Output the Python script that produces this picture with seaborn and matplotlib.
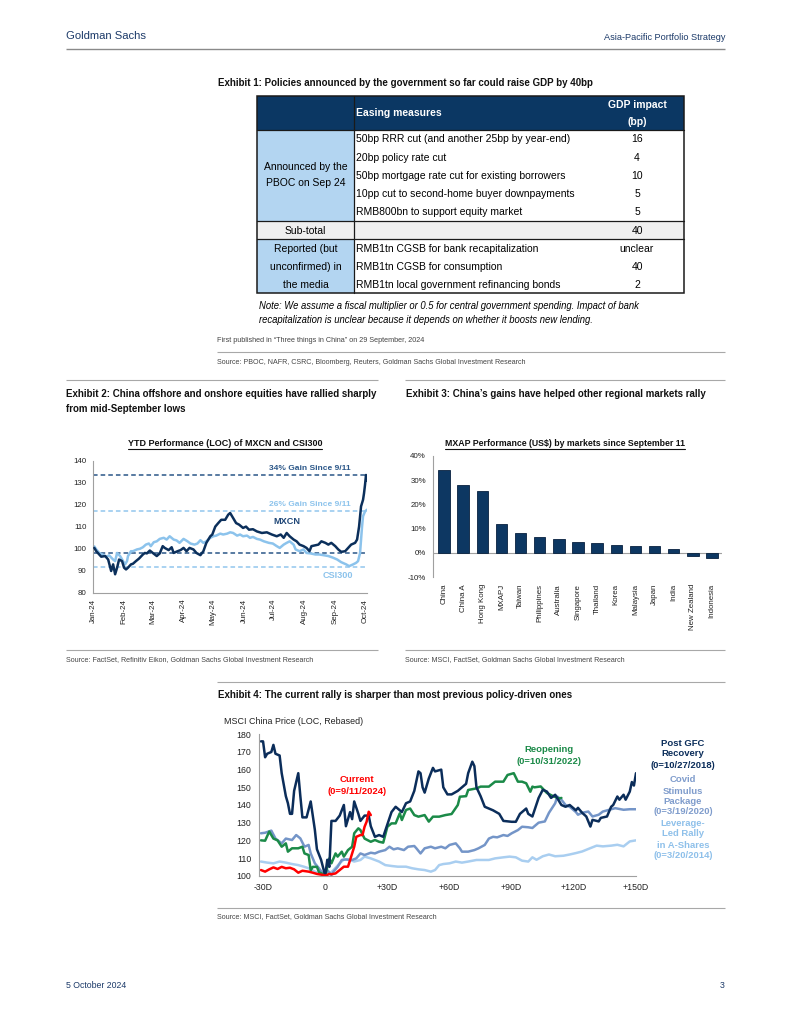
import numpy as np
import pandas as pd
import matplotlib
matplotlib.use("Agg")
import matplotlib.pyplot as plt
import matplotlib.dates as mdates
from matplotlib.patches import Rectangle
from matplotlib import font_manager as fm
import seaborn as sns

# ---------------- DATA ----------------
# Exhibit 1 (table)
announced_label = ["Announced by the", "PBOC on Sep 24"]
announced_measures = ["50bp RRR cut (and another 25bp by year-end)", "20bp policy rate cut",
                      "50bp mortgage rate cut for existing borrowers",
                      "10pp cut to second-home buyer downpayments", "RMB800bn to support equity market"]
announced_gdp = ["16", "4", "10", "5", "5"]
subtotal_label = "Sub-total"
subtotal_gdp = "40"
reported_label = ["Reported (but", "unconfirmed) in", "the media"]
reported_measures = ["RMB1tn CGSB for bank recapitalization", "RMB1tn CGSB for consumption",
                     "RMB1tn local government refinancing bonds"]
reported_gdp = ["unclear", "40", "2"]

# Exhibit 2 (days since 1 Jan 2024)
mxcn_day = [1, 3, 6, 8, 12, 15, 18, 20, 22, 24, 26, 29, 31, 33, 35, 38, 40, 43, 46, 50, 52, 54, 57, 60, 64, 67,
            70, 72, 76, 79, 81, 85, 88, 91, 94, 97, 101, 104, 108, 111, 114, 118, 120, 123, 126, 129, 133, 136,
            138, 141, 144, 147, 151, 154, 157, 161, 165, 170, 175, 180, 185, 189, 192, 195, 198, 202, 205, 208,
            212, 215, 218, 220, 224, 227, 230, 234, 237, 240, 244, 247, 250, 254, 257, 260, 264, 266, 268, 270,
            272, 273, 274, 275, 276]
mxcn_val = [100.3, 98.8, 97.3, 96.3, 96.6, 95, 89.8, 92.8, 88.3, 91.3, 95, 94.3, 91.3, 90.5, 91.3, 92.8, 93.1,
            94.3, 95.4, 97.3, 98, 97.8, 99.1, 98, 96.6, 97.8, 101.1, 100.3, 99.3, 100.6, 98, 98.8, 99.3, 100.3,
            98.8, 100.3, 99.6, 98, 97, 98.8, 102.6, 105.6, 106.4, 110, 111.6, 113.1, 113.1, 115.4, 116.2, 113.9,
            111.6, 110.9, 109.4, 110, 108.6, 108.8, 107.8, 107.1, 107.4, 106.4, 105.6, 106.4, 104.9, 107.1, 105.6,
            104.1, 103.3, 101.8, 101.1, 100.3, 98.8, 101.1, 101.5, 101.8, 103.3, 102.6, 101.8, 102.6, 101.1, 99.6,
            98.5, 98.8, 100.3, 101.8, 102.6, 104.1, 110, 119.2, 122.2, 125.2, 129, 133.5, 131]
csi_day = [1, 3, 6, 9, 13, 16, 20, 22, 24, 27, 30, 32, 34, 35, 38, 40, 44, 47, 50, 53, 56, 58, 61, 64, 67, 71, 74,
           77, 81, 84, 87, 91, 95, 98, 102, 105, 108, 111, 114, 118, 121, 124, 128, 131, 135, 138, 141, 145, 148,
           151, 155, 158, 161, 165, 168, 172, 177, 181, 185, 188, 192, 195, 198, 202, 204, 208, 212, 215, 219,
           224, 228, 232, 237, 242, 246, 250, 255, 258, 262, 265, 267, 269, 271, 272, 274, 276]
csi_val = [101, 99.6, 98, 97.3, 96.3, 96.9, 95, 94.3, 98, 96.6, 94.3, 92.8, 94.3, 96.6, 98.8, 98.8, 99.6, 99.9,
           100.6, 101.8, 102.3, 101.1, 102.9, 103.3, 104.4, 104.9, 104.1, 105.6, 104.1, 103.7, 102.6, 104.4, 103.3,
           102.3, 101.8, 102.3, 103.8, 102.6, 103.3, 104.9, 105.6, 105.9, 106.8, 106.4, 106.8, 107.4, 107.1, 105.9,
           106.4, 105.6, 105.9, 104.9, 105.3, 104.4, 104.1, 103.3, 102.6, 102.3, 101.1, 100.3, 101.8, 102.6, 103.3,
           101.8, 99.6, 98.8, 99.6, 98, 97.8, 97.3, 97.3, 97, 96.6, 95.8, 95, 93.8, 92.8, 92, 92.8, 93.5, 94.3, 98,
           110, 114.7, 116.9, 117.7]
ref_mxcn = [133.5, 98]
ref_csi = [117, 91.5]

# Exhibit 3
markets = ["China", "China A", "Hong Kong", "MXAPJ", "Taiwan", "Philippines", "Australia", "Singapore",
           "Thailand", "Korea", "Malaysia", "Japan", "India", "New Zealand", "Indonesia"]
perf = [34.4, 28.2, 25.6, 12.1, 8.0, 6.6, 5.8, 4.3, 4.2, 3.2, 2.7, 2.7, 1.7, -1.2, -2.0]

# Exhibit 4 (trading days relative to start date, rebased = 100)
gfc_day = [-31, -30, -29, -28, -26, -25, -24, -22, -21, -19, -18, -17, -16, -15, -13, -12, -11, -9, -7, -5, -4,
           -2, 0, 1, 2, 3, 5, 7, 9, 10, 12, 13, 14, 16, 17, 19, 21, 22, 24, 26, 28, 30, 32, 34, 37, 39, 41, 43, 45,
           46, 47, 48, 50, 52, 53, 56, 57, 59, 61, 64, 66, 68, 69, 71, 72, 73, 75, 77, 79, 81, 84, 86, 90, 92, 94,
           97, 98, 100, 103, 105, 107, 109, 111, 114, 116, 118, 121, 122, 124, 126, 128, 129, 132, 133, 136, 138,
           139, 141, 142, 144, 145, 147, 148, 149, 150]
gfc_val = [176, 176, 167, 169, 170, 174, 169, 168, 158, 145, 141, 135, 135, 148, 158, 145, 133, 133, 142, 126,
           115, 109, 100, 109, 105, 131, 131, 134, 140, 128, 136, 132, 142, 135, 131, 134, 134, 128, 122, 123, 122,
           129, 136, 139, 136, 141, 142, 148, 159, 158, 150, 147, 155, 161, 159, 160, 150, 146, 146, 148, 150, 152,
           158, 164.5, 162, 150, 145, 139, 138, 137, 135, 131, 130.5, 130.5, 135, 138, 135, 133.5, 144, 148.6,
           147.6, 144, 145.8, 140, 139, 140, 137, 138.4, 135.6, 133.5, 127.8, 131.6, 130.7, 132.7, 133.5, 139, 140,
           144.8, 143, 145.8, 143, 147.6, 153, 151, 158]
reop_day = [-31, -29, -27, -25, -23, -21, -19, -18, -16, -13, -11, -10, -8, -7, -6, -4, -3, -1, 0, 1, 2, 3, 5, 6,
            8, 9, 11, 13, 14, 16, 17, 19, 22, 24, 26, 28, 30, 32, 34, 36, 37, 39, 41, 43, 45, 48, 50, 52, 55, 58,
            61, 64, 65, 68, 69, 73, 75, 79, 82, 86, 88, 91, 93, 95, 97, 99, 100, 101, 104, 107, 110, 113, 114]
reop_val = [120, 119.8, 125, 121, 120, 116.4, 118.3, 113.6, 115.5, 115.5, 116.4, 112.6, 111.7, 103, 105, 105, 102,
            100.8, 100, 105, 109.8, 107, 112.6, 110.8, 113.6, 110.8, 114.5, 116.4, 124, 126.8, 125.8, 121, 119.2,
            120.2, 119.2, 118.7, 127.7, 129.6, 129.6, 135.3, 131.5, 137.2, 138, 134.3, 133.4, 134.3, 130.6, 133.4,
            133.4, 134.3, 134.9, 140, 144.7, 145, 148.5, 149.4, 150.4, 150.4, 153.2, 153.2, 157, 158, 153.2, 153.2,
            152.3, 147.5, 150.4, 150, 150.5, 146.8, 145, 143.7, 144]
cur_day = [-31, -29, -27, -25, -23, -21, -19, -17, -15, -13, -11, -8, -6, -4, -1, 0, 2, 3, 5, 7, 9, 11, 13, 14,
           15, 17, 18, 19, 20, 21, 22]
cur_val = [103.2, 102.3, 103.6, 104.7, 103.8, 105, 104.2, 104.5, 103.6, 101.7, 102.8, 102.3, 101.7, 101, 100.4, 100,
           101, 100.8, 101.3, 103.2, 105.1, 105.1, 112.6, 116.4, 122, 123, 123, 127.7, 130.6, 136.2, 134.3]
covid_day = [-31, -29, -26, -24, -21, -19, -16, -14, -12, -10, -8, -7, -5, -3, -1, 0, 1, 3, 4, 6, 8, 10, 13, 15,
             17, 19, 22, 24, 26, 29, 31, 33, 35, 38, 40, 43, 44, 46, 48, 51, 53, 56, 58, 60, 63, 65, 66, 69, 72, 74,
             77, 79, 81, 83, 86, 88, 90, 93, 95, 98, 100, 103, 106, 108, 111, 112, 114, 116, 118, 121, 122, 124,
             127, 129, 132, 134, 138, 140, 144, 147, 150]
covid_val = [124, 124.3, 125.5, 121, 118.3, 121, 120.2, 123, 121.1, 116.4, 117.4, 112.6, 107, 104.2, 101, 100,
             103.2, 100.4, 102.3, 105, 108.9, 109.2, 108.9, 109.8, 112.6, 111.7, 113, 112.6, 113.6, 114.5, 116.4,
             114.9, 115.5, 114.5, 116.4, 116.8, 115.5, 112.6, 115.5, 116.4, 115.5, 116.4, 115.5, 117.4, 118.3, 115.5,
             113.6, 113.6, 114.5, 115.5, 117.4, 121, 122, 121.7, 123, 122.5, 124, 125.8, 127.7, 127.4, 127, 130,
             130.7, 135.6, 141, 144.8, 143, 140, 139, 136, 134.5, 135.6, 136.3, 133.5, 134.5, 136.3, 137.6, 138.2,
             137.3, 137.6, 137.6]
lev_day = [-31, -28, -25, -22, -19, -16, -13, -10, -8, -5, -3, 0, 2, 4, 7, 9, 12, 14, 17, 19, 22, 24, 26, 29, 32,
           35, 39, 42, 45, 48, 51, 53, 55, 57, 60, 63, 66, 69, 73, 76, 79, 82, 86, 89, 92, 95, 98, 100, 102, 105,
           108, 111, 115, 118, 121, 124, 128, 131, 134, 138, 141, 144, 147, 150]
lev_val = [108, 107.4, 107, 108, 107.4, 106.6, 106, 105, 104.2, 102.3, 101.3, 100, 101, 103.2, 107, 109.2, 108.9,
           108, 108.9, 110.8, 109.8, 108.9, 108, 106, 105.5, 105.1, 105.1, 104.2, 103.6, 103.2, 102.3, 103.2, 106,
           106.6, 107, 108, 107.4, 108, 108.9, 108.9, 108.9, 109.8, 110.4, 110.8, 110.4, 108.5, 108, 110.4, 109,
           111, 112, 111, 111.3, 112, 112.8, 113.7, 115.6, 117, 116.6, 117, 117.5, 116.6, 119.4, 120]
ex4_xticks = [-30, 0, 30, 60, 90, 120, 150]
ex4_xlabels = ["-30D", "0", "+30D", "+60D", "+90D", "+120D", "+150D"]

# ---------------- STYLE ----------------
sns.set_theme(style="white")
names = {f.name for f in fm.fontManager.ttflist}
REG = "Liberation Sans"
if "Liberation Sans Narrow" in names:
    NAR, NF = "Liberation Sans Narrow", 1.0 / 0.82
else:
    NAR, NF = "Liberation Sans", 1.0
plt.rcParams["font.family"] = [REG, "DejaVu Sans"]

NAVY_TXT = "#1c3a69"
C_MXCN = "#0b2f5b"
C_CSI = "#8cc3ec"
C_GFC = "#0b2d5a"
C_REOP = "#1b8a48"
C_CUR = "#ff0000"
C_COVID = "#7495c8"
C_LEV = "#a9cef0"
GRID_GRAY = "#a0a0a0"

W, H = 791, 1024
fig = plt.figure(figsize=(W / 100, H / 100), dpi=100)
fig.patch.set_facecolor("white")
page = fig.add_axes([0, 0, 1, 1])
page.set_xlim(0, W)
page.set_ylim(H, 0)
page.axis("off")


def add_ax(l, t, r, b):
    return fig.add_axes([l / W, 1 - b / H, (r - l) / W, (b - t) / H])


def ptext(x, y, s, size, family=None, weight="normal", color="#000000", ha="left", va="center", style="normal"):
    return page.text(x, y, s, fontsize=size, family=family or REG, weight=weight, color=color,
                     ha=ha, va=va, style=style)


def rule(x0, x1, y, color="#a8a8a8", lw=0.8):
    page.plot([x0, x1], [y, y], color=color, lw=lw, solid_capstyle="butt")


def style_axis(ax, labelsize):
    for s in ["top", "right"]:
        ax.spines[s].set_visible(False)
    for s in ["left", "bottom"]:
        ax.spines[s].set_color(GRID_GRAY)
        ax.spines[s].set_linewidth(0.8)
    ax.tick_params(axis="both", labelsize=labelsize, colors=GRID_GRAY, labelcolor="#222222",
                   length=2.5, width=0.7, direction="out")
    ax.set_facecolor("none")
    ax.grid(False)


# ---------------- HEADER / FOOTER ----------------
ptext(66, 36, "Goldman Sachs", 8.1 * NF, family=NAR, color=NAVY_TXT)
ptext(725, 37, "Asia-Pacific Portfolio Strategy", 6.6 * NF, family=NAR, color=NAVY_TXT, ha="right")
rule(66, 725, 49, color="#8a8a8a", lw=1.0)
ptext(66, 985, "5 October 2024", 6.3 * NF, family=NAR, color=NAVY_TXT)
ptext(725, 985, "3", 6.3 * NF, family=NAR, color=NAVY_TXT, ha="right")

TITLE_SZ = 7.0 * NF
SRC_SZ = 5.1 * NF

# ---------------- EXHIBIT 1 ----------------
ptext(218, 83, "Exhibit 1: Policies announced by the government so far could raise GDP by 40bp", TITLE_SZ,
      family=NAR, weight="bold", color="#111111")
TL, TC, TR = 257, 354, 684
t_top, h_bot, s_top, s_bot, t_bot = 96, 129.5, 221, 239, 293
GDPX = 637
NAVY_FILL, LB_FILL, GR_FILL = "#0b3763", "#b3d5f1", "#efefef"
page.add_patch(Rectangle((TL, t_top), TR - TL, h_bot - t_top, facecolor=NAVY_FILL, edgecolor="none"))
page.add_patch(Rectangle((TL, h_bot), TC - TL, s_top - h_bot, facecolor=LB_FILL, edgecolor="none"))
page.add_patch(Rectangle((TL, s_top), TR - TL, s_bot - s_top, facecolor=GR_FILL, edgecolor="none"))
page.add_patch(Rectangle((TL, s_bot), TC - TL, t_bot - s_bot, facecolor=LB_FILL, edgecolor="none"))
LC = "#1a1a1a"
for yy in [h_bot, s_top, s_bot]:
    page.plot([TL, TR], [yy, yy], color=LC, lw=0.9)
page.plot([TC, TC], [t_top, t_bot], color=LC, lw=0.9)
page.add_patch(Rectangle((TL, t_top), TR - TL, t_bot - t_top, facecolor="none", edgecolor=LC, lw=1.1))
TB_SZ = 7.45
ptext(356, 113, "Easing measures", TB_SZ, weight="bold", color="white")
ptext(GDPX, 105, "GDP impact", TB_SZ, weight="bold", color="white", ha="center")
ptext(GDPX, 122, "(bp)", TB_SZ, weight="bold", color="white", ha="center")
rh = (s_top - h_bot) / len(announced_measures)
for i, (m, g) in enumerate(zip(announced_measures, announced_gdp)):
    yc = h_bot + (i + 0.5) * rh + 0.6
    ptext(356, yc, m, TB_SZ)
    ptext(GDPX, yc, g, TB_SZ, ha="center")
for yl, s in zip([167, 183], announced_label):
    ptext((TL + TC) / 2, yl, s, TB_SZ, ha="center")
ptext((TL + TC) / 2, (s_top + s_bot) / 2 + 0.8, subtotal_label, TB_SZ, ha="center")
ptext(GDPX, (s_top + s_bot) / 2 + 0.8, subtotal_gdp, TB_SZ, ha="center")
rh2 = (t_bot - s_bot) / len(reported_measures)
for i, (m, g, lab) in enumerate(zip(reported_measures, reported_gdp, reported_label)):
    yc = s_bot + (i + 0.5) * rh2 + 1.0
    ptext(356, yc, m, TB_SZ)
    ptext(GDPX, yc, g, TB_SZ, ha="center")
    ptext((TL + TC) / 2, yc, lab, TB_SZ, ha="center")
ptext(259, 306, "Note: We assume a fiscal multiplier or 0.5 for central government spending. Impact of bank",
      6.85, style="italic")
ptext(259, 320, "recapitalization is unclear because it depends on whether it boosts new lending.", 6.85,
      style="italic")
ptext(217, 340, "First published in \u201cThree things in China\u201d on 29 September, 2024", 5.25 * NF,
      family=NAR, color="#444444")
rule(217, 725, 352)
ptext(217, 362, "Source: PBOC, NAFR, CSRC, Bloomberg, Reuters, Goldman Sachs Global Investment Research", SRC_SZ,
      family=NAR, color="#444444")

# ---------------- EXHIBIT 2 ----------------
rule(66, 378, 380)
rule(405, 725, 380)
ptext(66, 394, "Exhibit 2: China offshore and onshore equities have rallied sharply", TITLE_SZ, family=NAR,
      weight="bold", color="#111111")
ptext(66, 409, "from mid-September lows", TITLE_SZ, family=NAR, weight="bold", color="#111111")
t2 = ptext(225, 443, "YTD Performance (LOC) of MXCN and CSI300", 6.5, weight="bold", color="#111111",
           ha="center")

base = pd.Timestamp("2024-01-01")
mx_dates = base + pd.to_timedelta(mxcn_day, unit="D")
cs_dates = base + pd.to_timedelta(csi_day, unit="D")
ax2 = add_ax(93.3, 460.7, 367, 592.5)
style_axis(ax2, 5.7)
for lv in ref_mxcn:
    ax2.axhline(lv, color="#2a5688", lw=1.1, ls=(0, (3, 2)), zorder=1)
for lv in ref_csi:
    ax2.axhline(lv, color="#92c6ee", lw=1.1, ls=(0, (3, 2)), zorder=1)
sns.lineplot(x=cs_dates, y=csi_val, ax=ax2, color=C_CSI, lw=1.8, legend=False, zorder=2)
sns.lineplot(x=mx_dates, y=mxcn_val, ax=ax2, color=C_MXCN, lw=1.8, legend=False, zorder=3)
ax2.set_xlim(pd.Timestamp("2024-01-01"), pd.Timestamp("2024-10-03"))
ax2.set_ylim(80, 140)
ax2.set_yticks(np.arange(80, 141, 10))
ax2.xaxis.set_major_locator(mdates.MonthLocator())
ax2.xaxis.set_major_formatter(mdates.DateFormatter("%b-%y"))
ax2.tick_params(axis="x", rotation=90, pad=2)
ax2.tick_params(axis="y", pad=2.5)
ax2.set_xlabel("")
ax2.set_ylabel("")
ptext(310, 468, "34% Gain Since 9/11", 6.0, weight="bold", color="#2a5688", ha="center")
ptext(310, 504, "26% Gain Since 9/11", 6.0, weight="bold", color="#8cc3ec", ha="center")
ptext(287, 521, "MXCN", 6.6, weight="bold", color="#1f4677", ha="center")
ptext(338, 576, "CSI300", 6.6, weight="bold", color="#8cc3ec", ha="center")
rule(66, 378, 650)
ptext(66, 660, "Source: FactSet, Refinitiv Eikon, Goldman Sachs Global Investment Research", SRC_SZ,
      family=NAR, color="#444444")

# ---------------- EXHIBIT 3 ----------------
ptext(406, 394, "Exhibit 3: China\u2019s gains have helped other regional markets rally", TITLE_SZ, family=NAR,
      weight="bold", color="#111111")
t3 = ptext(565, 443, "MXAP Performance (US$) by markets since September 11", 6.3, weight="bold",
           color="#111111", ha="center")
ax3 = add_ax(433, 456, 722, 577)
style_axis(ax3, 5.7)
sns.barplot(x=markets, y=perf, ax=ax3, color="#0d3762", saturation=1, width=0.6, edgecolor="#08213f",
            linewidth=0.6, zorder=3)
ax3.axhline(0, color=GRID_GRAY, lw=0.8, zorder=2)
ax3.spines["bottom"].set_visible(False)
ax3.set_xlim(-0.575, 14.52)
ax3.set_ylim(-10, 40)
ax3.set_yticks(np.arange(-10, 41, 10))
ax3.set_yticklabels([f"{v}%" for v in range(-10, 41, 10)])
ax3.tick_params(axis="x", rotation=90, length=0, pad=5)
ax3.tick_params(axis="y", pad=2.5)
ax3.set_xlabel("")
ax3.set_ylabel("")
rule(405, 725, 650)
ptext(405, 660, "Source: MSCI, FactSet, Goldman Sachs Global Investment Research", SRC_SZ, family=NAR,
      color="#444444")

# ---------------- EXHIBIT 4 ----------------
rule(217, 725, 682)
ptext(218, 695, "Exhibit 4: The current rally is sharper than most previous policy-driven ones", TITLE_SZ,
      family=NAR, weight="bold", color="#111111")
ptext(224, 722, "MSCI China Price (LOC, Rebased)", 6.4, color="#222222")
ax4 = add_ax(258.9, 734.3, 636, 875.7)
style_axis(ax4, 6.3)
sns.lineplot(x=lev_day, y=lev_val, ax=ax4, color=C_LEV, lw=1.8, legend=False)
sns.lineplot(x=covid_day, y=covid_val, ax=ax4, color=C_COVID, lw=1.8, legend=False)
sns.lineplot(x=reop_day, y=reop_val, ax=ax4, color=C_REOP, lw=1.8, legend=False)
sns.lineplot(x=gfc_day, y=gfc_val, ax=ax4, color=C_GFC, lw=1.8, legend=False)
sns.lineplot(x=cur_day, y=cur_val, ax=ax4, color=C_CUR, lw=1.8, legend=False)
ax4.set_xlim(-32, 150)
ax4.set_ylim(100, 180)
ax4.set_yticks(np.arange(100, 181, 10))
ax4.set_xticks(ex4_xticks)
ax4.set_xticklabels(ex4_xlabels)
ax4.tick_params(axis="x", pad=3)
ax4.tick_params(axis="y", pad=3)
ax4.set_xlabel("")
ax4.set_ylabel("")
LSZ = 6.8


def label_block(x, ys, lines, color):
    for yy, s in zip(ys, lines):
        ptext(x, yy, s, LSZ, weight="bold", color=color, ha="center")


label_block(357, [780, 791], ["Current", "(0=9/11/2024)"], C_CUR)
label_block(549, [750, 761], ["Reopening", "(0=10/31/2022)"], C_REOP)
label_block(683, [743, 754, 765], ["Post GFC", "Recovery", "(0=10/27/2018)"], C_GFC)
label_block(683, [780, 791, 801, 811], ["Covid", "Stimulus", "Package", "(0=3/19/2020)"], "#7f9ccc")
label_block(683, [823, 834, 845, 855], ["Leverage-", "Led Rally", "in A-Shares", "(0=3/20/2014)"], "#8ec0ea")
rule(217, 725, 908)
ptext(217, 917, "Source: MSCI, FactSet, Goldman Sachs Global Investment Research", SRC_SZ, family=NAR,
      color="#444444")

# underline chart titles
fig.canvas.draw()
r = fig.canvas.get_renderer()
for t, yl in [(t2, 448.5), (t3, 448.5)]:
    bb = t.get_window_extent(renderer=r)
    page.plot([bb.x0, bb.x1], [yl, yl], color="#111111", lw=0.8)

fig.savefig("out.png", dpi=100, facecolor="white")
